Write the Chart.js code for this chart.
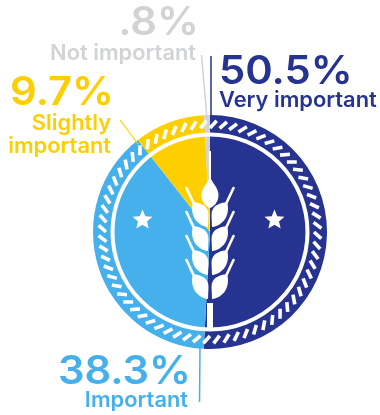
<!DOCTYPE html>
<html>
<head>
<meta charset="utf-8">
<title>How important</title>
<script src="https://cdn.jsdelivr.net/npm/chart.js@4"></script>
<style>
    html, body { margin: 0; padding: 0; background: #fff; }
    canvas { display: block; }
</style>
</head>
<body>
<canvas id="wheatChart" width="380" height="415"></canvas>
<script>
'use strict'

const categories = ['Very important', 'Important', ['Slightly', 'important'], 'Not important'];
const shares = [50.5, 38.3, 9.7, 0.8];
const colors = ['#263391', '#45b0ec', '#fdcf00', '#d1d3d4'];

const FONT = 'Inter, sans-serif';

// where each label block sits: anchor, x and baseline of the big number, x and baselines of the caption
const labelPlaces = [
    { align: 'left', bigX: 219, big: 84, x: 219, small: [107] },
    { align: 'right', bigX: 191, big: 384, x: 188, small: [407] },
    { align: 'right', bigX: 114, big: 105, x: 111, small: [130, 153] },
    { align: 'right', bigX: 199, big: 35, x: 196, small: [60] }
];

// leader lines between the labels and the ring
const leaders = [
    { from: [211, 56], to: [211, 116], width: 1.5 },
    { from: [200, 348], to: [199.5, 402], width: 1.5 },
    { from: [120, 120], to: [138, 144], width: 1.2 },
    { from: [201.5, 55], to: [207, 118], width: 1.5 }
];

function formatShare(v) {
    return String(v).replace(/^0/, '') + '%';
}

// the label face is wider than Inter, so stretch it sideways around the anchor
function wideText(ctx, text, x, y, stretch) {
    ctx.save();
    ctx.translate(x, y);
    ctx.scale(stretch, 1);
    ctx.fillText(text, 0, 0);
    ctx.restore();
}

function drawRope(ctx, cx, cy, inner, outer) {
    // slanted white strokes all around the band
    const count = 68;
    ctx.save();
    ctx.strokeStyle = '#fff';
    ctx.lineWidth = 3.6;
    for (let i = 0; i < count; i++) {
        const a = i / count * Math.PI * 2;
        const b = a + 0.06;
        ctx.beginPath();
        ctx.moveTo(cx + Math.cos(a) * inner, cy + Math.sin(a) * inner);
        ctx.lineTo(cx + Math.cos(b) * outer, cy + Math.sin(b) * outer);
        ctx.stroke();
    }
    ctx.restore();
}

function drawStar(ctx, x, y, r) {
    ctx.beginPath();
    for (let i = 0; i < 10; i++) {
        const rad = i % 2 ? r * 0.45 : r;
        const a = -Math.PI / 2 + i * Math.PI / 5;
        ctx.lineTo(x + Math.cos(a) * rad, y + Math.sin(a) * rad);
    }
    ctx.closePath();
    ctx.fill();
}

function drawGrain(ctx, cx, y, side) {
    ctx.beginPath();
    ctx.moveTo(cx + side * 2, y);
    ctx.bezierCurveTo(cx + side * 12, y - 1, cx + side * 21, y - 11, cx + side * 17, y - 25);
    ctx.bezierCurveTo(cx + side * 10, y - 24, cx + side * 1.5, y - 22, cx + side * 1.5, y - 12);
    ctx.closePath();
    ctx.fill();
    ctx.beginPath();
    ctx.moveTo(cx + side * 16, y - 23);
    ctx.lineTo(cx + side * 23.5, y - 39);
    ctx.stroke();
}

function drawWheat(ctx, cx) {
    ctx.save();
    ctx.fillStyle = '#fff';
    ctx.strokeStyle = '#fff';
    ctx.lineWidth = 2.6;
    ctx.lineCap = 'round';
    [227, 251, 275, 299].forEach(y => {
        drawGrain(ctx, cx, y, -1);
        drawGrain(ctx, cx, y, 1);
    });

    // top grain
    ctx.beginPath();
    ctx.moveTo(cx, 177);
    ctx.bezierCurveTo(cx + 3, 184, cx + 8.5, 188, cx + 8.5, 195);
    ctx.bezierCurveTo(cx + 8.5, 203, cx + 3, 207, cx, 208);
    ctx.bezierCurveTo(cx - 3, 207, cx - 8.5, 203, cx - 8.5, 195);
    ctx.bezierCurveTo(cx - 8.5, 188, cx - 3, 184, cx, 177);
    ctx.fill();

    ctx.fillRect(cx - 1, 151, 2, 28);
    ctx.fillRect(cx - 3, 303, 6, 25);
    ctx.restore();
}

const badgePlugin = {
    id: 'badge',
    afterDatasetsDraw(chart) {
        const ctx = chart.ctx;
        const arc = chart.getDatasetMeta(0).data[0];
        const cx = arc.x;
        const cy = arc.y;
        const R = arc.outerRadius;

        drawRope(ctx, cx, cy, R - 13, R - 5.5);

        // white ring between the band and the disc
        ctx.save();
        ctx.strokeStyle = '#fff';
        ctx.lineWidth = 4;
        ctx.beginPath();
        ctx.arc(cx, cy, R - 19.5, 0, Math.PI * 2);
        ctx.stroke();

        ctx.fillStyle = '#fff';
        drawStar(ctx, cx - 67.5, cy - 12, 10.5);
        drawStar(ctx, cx + 64.5, cy - 12, 10.5);
        ctx.restore();

        drawWheat(ctx, cx);

        ctx.save();
        leaders.forEach((l, i) => {
            ctx.strokeStyle = colors[i];
            ctx.lineWidth = l.width;
            ctx.beginPath();
            ctx.moveTo(l.from[0], l.from[1]);
            ctx.lineTo(l.to[0], l.to[1]);
            ctx.stroke();
        });

        ctx.textBaseline = 'alphabetic';
        labelPlaces.forEach((p, i) => {
            ctx.fillStyle = colors[i];
            ctx.textAlign = p.align;
            ctx.font = '600 39px ' + FONT;
            wideText(ctx, formatShare(shares[i]), p.bigX, p.big, 1.07);
            ctx.font = '600 21px ' + FONT;
            const lines = [].concat(categories[i]);
            lines.forEach((t, k) => wideText(ctx, t, p.x, p.small[k], 1.04));
        });
        ctx.restore();
    }
};

new Chart(document.getElementById('wheatChart').getContext('2d'), {
    type: 'pie',
    data: {
        labels: categories,
        datasets: [{
            data: shares,
            backgroundColor: colors,
            borderWidth: 0
        }]
    },
    options: {
        responsive: false,
        animation: false,
        layout: { padding: { left: 93, right: 53, top: 115, bottom: 66 } },
        plugins: {
            legend: { display: false },
            tooltip: { enabled: false }
        }
    },
    plugins: [badgePlugin]
});
</script>
</body>
</html>
